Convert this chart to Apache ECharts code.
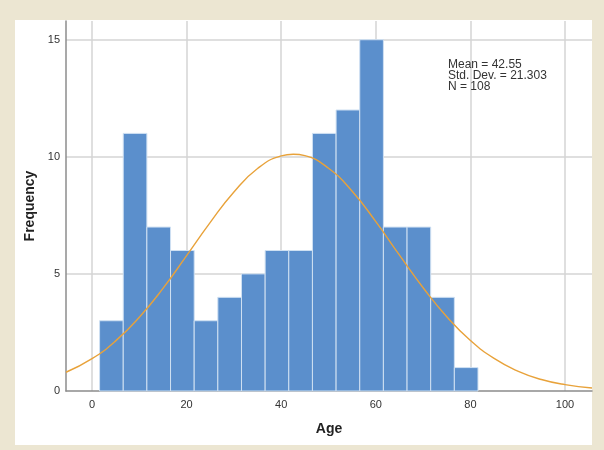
<!DOCTYPE html>
<html>
<head>
<meta charset="utf-8">
<script src="https://cdn.jsdelivr.net/npm/echarts@6/dist/echarts.min.js"></script>
<style>
  html, body { margin: 0; padding: 0; background: #ece6d2; }
  #chart { width: 604px; height: 450px; }
</style>
</head>
<body>
<div id="chart"></div>
<script>
// Histogram bins (left edges, width 5) and frequencies
const binStarts = [1.6, 6.6, 11.6, 16.6, 21.6, 26.6, 31.6, 36.6, 41.6, 46.6, 51.6, 56.6, 61.6, 66.6, 71.6, 76.6];
const binWidth = 5;
const frequencies = [3, 11, 7, 6, 3, 4, 5, 6, 6, 11, 12, 15, 7, 7, 4, 1];

// Normal curve points
const curveX = [-5.5, 0, 5, 10, 15, 20, 25, 30, 35, 40, 42.55, 45, 50, 55, 60, 65, 70, 75, 80, 85, 90, 95, 100, 105.7];
const curveY = [0.80, 1.38, 2.14, 3.15, 4.38, 5.78, 7.20, 8.50, 9.50, 10.04, 10.11, 10.05, 9.51, 8.53, 7.23, 5.80, 4.41, 3.17, 2.16, 1.39, 0.85, 0.49, 0.27, 0.13];

const statsLines = ['Mean = 42.55', 'Std. Dev. = 21.303', 'N = 108'];

const chart = echarts.init(document.getElementById('chart'), null, { renderer: 'canvas' });

const barData = binStarts.map((s, i) => [s, frequencies[i]]);
const lineData = curveX.map((x, i) => [x, curveY[i]]);

const option = {
  backgroundColor: '#ece6d2',
  animation: false,
  graphic: [
    { type: 'rect', left: 15, top: 20, shape: { width: 577, height: 425 }, style: { fill: '#ffffff' }, z: -10, silent: true },
    {
      type: 'text', left: 448, top: 59, z: 100,
      style: { text: statsLines.join('\n'), fill: '#333333', font: '12px "Liberation Sans", Arial, sans-serif', lineHeight: 11 }
    }
  ],
  grid: { left: 66, right: 12, top: 21, bottom: 59, containLabel: false },
  xAxis: {
    type: 'value', min: -5.5, max: 105.7, splitNumber: 5,
    name: 'Age', nameLocation: 'middle', nameGap: 31,
    nameTextStyle: { fontSize: 14, fontWeight: 'bold', color: '#222', fontFamily: '"Liberation Sans", Arial, sans-serif' },
    axisLine: { show: true, onZero: false, lineStyle: { color: '#8c8c8c', width: 1.5 } },
    axisTick: { show: false },
    axisLabel: { color: '#333', fontSize: 11, margin: 8, showMinLabel: false, showMaxLabel: false, fontFamily: '"Liberation Sans", Arial, sans-serif' },
    splitLine: { show: true, showMinLine: false, showMaxLine: false, lineStyle: { color: '#d4d4d4', width: 1.5 } }
  },
  yAxis: {
    type: 'value', min: 0, max: 15.8, interval: 5,
    name: 'Frequency', nameLocation: 'middle', nameGap: 29, nameRotate: 90,
    nameTextStyle: { fontSize: 14, fontWeight: 'bold', color: '#222', fontFamily: '"Liberation Sans", Arial, sans-serif' },
    axisLine: { show: true, onZero: false, lineStyle: { color: '#8c8c8c', width: 1.5 } },
    axisTick: { show: false },
    axisLabel: { color: '#333', fontSize: 11, margin: 6, showMaxLabel: false, fontFamily: '"Liberation Sans", Arial, sans-serif' },
    splitLine: { show: true, showMinLine: false, showMaxLine: false, lineStyle: { color: '#d4d4d4', width: 1.5 } }
  },
  series: [
    {
      type: 'custom',
      data: barData,
      encode: { x: 0, y: 1 },
      renderItem: function (params, api) {
        const x0 = api.value(0);
        const y = api.value(1);
        const p1 = api.coord([x0, y]);
        const p2 = api.coord([x0 + binWidth, 0]);
        return {
          type: 'rect',
          shape: { x: p1[0], y: p1[1], width: p2[0] - p1[0], height: p2[1] - p1[1] },
          style: { fill: '#5b8fcc', stroke: '#cfe0f2', lineWidth: 1 }
        };
      },
      z: 2
    },
    {
      type: 'line',
      data: lineData,
      smooth: true,
      symbol: 'none',
      lineStyle: { color: '#e8a23a', width: 1.4 },
      z: 3
    }
  ]
};
chart.setOption(option);
</script>
</body>
</html>
